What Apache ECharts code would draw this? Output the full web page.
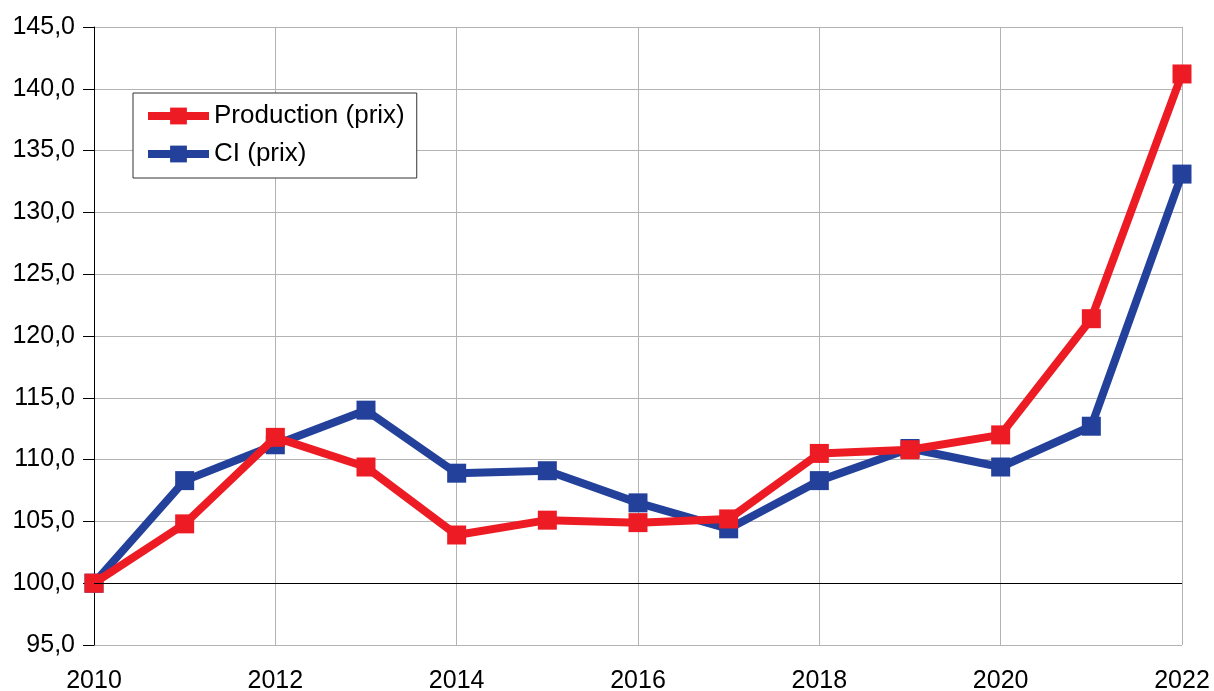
<!DOCTYPE html>
<html>
<head>
<meta charset="utf-8">
<script src="https://cdn.jsdelivr.net/npm/echarts@6/dist/echarts.min.js"></script>
<style>
  html, body { margin: 0; padding: 0; background: #ffffff; }
  #chart { width: 1214px; height: 691px; }
</style>
</head>
<body>
<div id="chart"></div>
<script>
const years = [2010, 2011, 2012, 2013, 2014, 2015, 2016, 2017, 2018, 2019, 2020, 2021, 2022];
const production = [100.0, 104.8, 111.8, 109.4, 103.9, 105.1, 104.9, 105.2, 110.5, 110.8, 112.0, 121.4, 141.2];
const ci = [100.0, 108.3, 111.2, 114.0, 108.9, 109.1, 106.5, 104.4, 108.3, 110.9, 109.4, 112.7, 133.1];
const seriesNames = ['Production (prix)', 'CI (prix)'];
const yTicks = { min: 95, max: 145, interval: 5 };
const xTicks = { min: 2010, max: 2022, interval: 2 };

const RED = '#ed1c24';
const BLUE = '#23419a';
const FONT = '"Liberation Sans", Arial, sans-serif';

function pairs(vals) { return years.map((y, i) => [y, vals[i]]); }

const chart = echarts.init(document.getElementById('chart'), null, { renderer: 'canvas' });
chart.setOption({
  animation: false,
  backgroundColor: '#ffffff',
  textStyle: { fontFamily: FONT },
  grid: { left: 94, right: 32, top: 27, bottom: 46, containLabel: false, outerBoundsMode: 'none' },
  legend: {
    data: seriesNames,
    orient: 'vertical',
    left: 133,
    top: 93,
    padding: [8, 12, 9, 11],
    itemGap: 8,
    itemWidth: 61,
    itemHeight: 21,
    borderColor: '#333333',
    borderWidth: 1,
    backgroundColor: '#ffffff',
    lineStyle: { width: 8 },
    textStyle: { fontFamily: FONT, fontSize: 26, color: '#000000', lineHeight: 30 }
  },
  xAxis: {
    type: 'value',
    min: xTicks.min,
    max: xTicks.max,
    interval: xTicks.interval,
    axisLine: { show: false },
    axisTick: { show: false },
    splitLine: { show: true, lineStyle: { color: '#b3b3b3', width: 1 } },
    axisLabel: { fontFamily: FONT, fontSize: 25, color: '#000000', margin: 24, formatter: v => String(v) }
  },
  yAxis: {
    type: 'value',
    min: yTicks.min,
    max: yTicks.max,
    interval: yTicks.interval,
    axisLine: { show: true, lineStyle: { color: '#000000', width: 1 } },
    axisTick: { show: true, length: 11, lineStyle: { color: '#000000', width: 1 } },
    splitLine: { show: true, lineStyle: { color: '#b3b3b3', width: 1 } },
    axisLabel: { fontFamily: FONT, fontSize: 25, color: '#000000', margin: 19,
      formatter: v => v.toFixed(1).replace('.', ',') }
  },
  series: [
    {
      name: 'baseline',
      type: 'line',
      data: [],
      z: 1,
      silent: true,
      markLine: {
        silent: true,
        symbol: 'none',
        label: { show: false },
        lineStyle: { color: '#000000', width: 1, type: 'solid' },
        data: [{ yAxis: 100 }]
      }
    },
    {
      name: seriesNames[1],
      type: 'line',
      data: pairs(ci),
      z: 3,
      symbol: 'rect',
      symbolSize: 19,
      color: BLUE,
      itemStyle: { color: BLUE },
      lineStyle: { color: BLUE, width: 8 }
    },
    {
      name: seriesNames[0],
      type: 'line',
      data: pairs(production),
      z: 4,
      symbol: 'rect',
      symbolSize: 19,
      color: RED,
      itemStyle: { color: RED },
      lineStyle: { color: RED, width: 8 }
    }
  ]
});
</script>
</body>
</html>
